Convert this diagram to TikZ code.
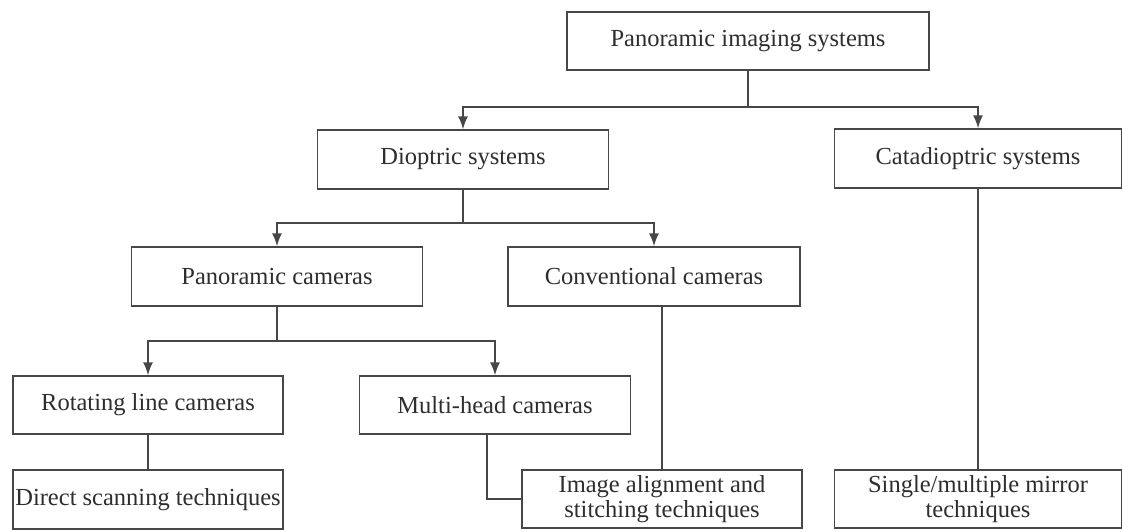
\documentclass[tikz,border=0pt]{standalone}
\usepackage{fontspec}
\setmainfont{Liberation Serif}
\usetikzlibrary{arrows.meta}
\definecolor{linegray}{HTML}{474747}
\definecolor{textgray}{HTML}{2E2E2E}
\tikzset{
  box/.style={draw=linegray, line width=1.5pt, fill=white, text=textgray,
    inner sep=0pt, align=center,
    font=\fontsize{24.5}{25.5}\selectfont},
  link/.style={draw=linegray, line width=1.5pt},
  arr/.style={link, -{Latex[length=13pt,width=10pt]}}
}
\begin{document}
\begin{tikzpicture}[x=1pt, y=-1pt]
\useasboundingbox (0,0) rectangle (1123,531);

% level 0
\node[box, minimum width=362pt, minimum height=58pt] (top) at (748,41) {Panoramic imaging systems};
% level 1
\node[box, minimum width=291pt, minimum height=59pt] (dio) at (463,159.5) {Dioptric systems};
\node[box, minimum width=287pt, minimum height=59pt] (cata) at (978,158.5) {Catadioptric systems};
% level 2
\node[box, minimum width=291pt, minimum height=59pt] (pancam) at (277,276.5) {Panoramic cameras};
\node[box, minimum width=292pt, minimum height=59pt] (conv) at (654,276.5) {Conventional cameras};
% level 3
\node[box, minimum width=270pt, minimum height=58pt] (rot) at (148,405) {Rotating line cameras};
\node[box, minimum width=271pt, minimum height=58pt] (multi) at (495,405) {Multi-head cameras};
% level 4
\node[box, minimum width=270pt, minimum height=59pt] (direct) at (148,499.5) {Direct scanning techniques};
\node[box, minimum width=280pt, minimum height=58pt] (align) at (662,499) {Image alignment and\\stitching techniques};
\node[box, minimum width=287pt, minimum height=58pt] (single) at (978,499) {Single/multiple mirror\\techniques};

% branching junctions
\coordinate (j0) at (748,107);
\coordinate (j1) at (463,223);
\coordinate (j2) at (277,341);

\draw[link] (top.south) -- (j0);
\draw[arr] (j0) -| (dio.north);
\draw[arr] (j0) -| (cata.north);

\draw[link] (dio.south) -- (j1);
\draw[arr] (j1) -| (pancam.north);
\draw[arr] (j1) -| (conv.north);

\draw[link] (pancam.south) -- (j2);
\draw[arr] (j2) -| (rot.north);
\draw[arr] (j2) -| (multi.north);

\draw[link] (rot.south) -- (direct.north);
\draw[link] ([xshift=-8pt]multi.south) |- (align.west);
\draw[link] (conv.south -| align.north) -- (align.north);
\draw[link] (cata.south) -- (single.north);
\end{tikzpicture}
\end{document}
